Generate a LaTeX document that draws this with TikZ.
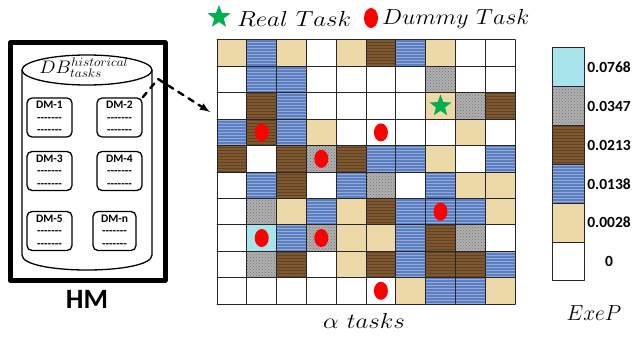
\documentclass[tikz,border=0pt]{standalone}
\usepackage{fontspec}
\newfontfamily\calib{Carlito}
\usetikzlibrary{shapes.geometric,positioning,patterns}
\definecolor{tanc}{RGB}{237,217,168}
\definecolor{bluec}{RGB}{92,126,194}
\definecolor{woodc}{RGB}{128,88,48}
\definecolor{grayc}{RGB}{176,176,176}
\definecolor{cyanc}{RGB}{166,228,236}
\definecolor{starg}{RGB}{0,176,80}
\newcommand\dashrow{-{}-{}-{}-{}-{}-{}-}
\newcommand\widetxt[2]{\scalebox{#1}[1.05]{#2}}
\tikzset{
 v0/.style={fill=white},
 v1/.style={fill=tanc},
 v2/.style={fill=bluec,postaction={pattern=horizontal lines,pattern color=bluec!65!white}},
 v3/.style={fill=woodc,postaction={pattern=horizontal lines,pattern color=woodc!75!black}},
 v4/.style={fill=grayc,postaction={pattern=crosshatch dots,pattern color=grayc!65!black}},
 v5/.style={fill=cyanc,postaction={pattern=dots,pattern color=cyanc!70!white}}}
\begin{document}
\begin{tikzpicture}[x=1pt,y=-1pt,line cap=round,line join=round,>=latex,
 dmbox/.style={draw,line width=1.3pt,rounded corners=5pt,minimum width=45pt,
  minimum height=39pt,inner sep=1pt,align=center,
  font=\calib\bfseries\fontsize{11.5}{12.5}\selectfont},
 dummy/.style={ellipse,fill=red,minimum width=14pt,minimum height=18pt,inner sep=0pt},
 realstar/.style={star,star points=5,star point ratio=2.4,fill=starg,
  minimum size=24pt,inner sep=0pt},
 mathlab/.style={font=\fontsize{22}{24}\selectfont,inner sep=0pt},
 barlab/.style={font=\calib\bfseries\fontsize{15.5}{16}\selectfont,inner sep=0pt}]
\useasboundingbox (0,0) rectangle (639,337);
% history model: frame, database cylinder and its DM records
\draw[line width=5pt] (10,43) rectangle (165,280);
\node[font=\calib\bfseries\fontsize{28}{30}\selectfont,inner sep=0pt] (hm) at (87,299) {HM};
\draw[line width=1.3pt] (87,70) ellipse[x radius=65,y radius=15];
\draw[line width=1.3pt] (22,70) -- (22,255) .. controls (22,275) and (152,275) .. (152,255) -- (152,70);
\node[font=\fontsize{18}{19}\selectfont,inner sep=0pt] (dblab) at (84,68)
 {\widetxt{1.12}{$DB^{historical}_{tasks}$}};
\node[dmbox] (dm1) at (49.5,117.5) {DM-1\\\dashrow\\\dashrow};
\node[dmbox] (dm2) at (119.5,117.5) {DM-2\\\dashrow\\\dashrow};
\node[dmbox] (dm3) at (49.5,171) {DM-3\\\dashrow\\\dashrow};
\node[dmbox] (dm4) at (119.5,171) {DM-4\\\dashrow\\\dashrow};
\node[dmbox] (dm5) at (49.5,231) {DM-5\\\dashrow\\\dashrow};
\node[dmbox,minimum width=43pt] (dmn) at (114.5,231) {DM-n\\\dashrow\\\dashrow};
% mapping arrow towards the task grid
\coordinate (bend) at (158,79);
\coordinate (gridin) at (210,112);
\draw[line width=2.4pt,dash pattern=on 6pt off 6pt,->] (dm2.north east) -- (bend) -- (gridin);
% legend
\node[realstar] (keystar) at (219,17) {};
\node[mathlab,anchor=west] (legreal) at (237,19) {\widetxt{1.2}{$Real\ Task$}};
\node[dummy,minimum height=20pt] (keydot) at (371,18) {};
\node[mathlab,anchor=west] (legdummy) at (382,19) {\widetxt{1.15}{$Dummy\ Task$}};
% task grid, 10 x 10 cells, value 0..5 = colour class
\foreach \rw [count=\r] in {{1,2,1,0,1,3,2,1,0,0},{0,2,2,0,0,0,0,4,0,0},
 {0,3,2,0,0,0,0,1,4,3},{2,3,2,1,0,0,0,0,1,0},{3,0,3,4,3,2,2,1,0,2},
 {0,2,3,0,2,4,0,2,1,1},{0,4,1,2,1,3,2,2,2,1},{0,5,2,4,1,1,2,3,4,0},
 {0,4,3,0,1,3,2,3,3,2},{0,0,0,0,0,0,1,2,2,1}}
 {\foreach \v [count=\c] in \rw
  {\path[v\v] ({217+(\c-1)*29.8},{40+(\r-1)*26.4}) rectangle ++(29.8,26.4);}}
\foreach \i in {0,...,10}
 {\draw[black!85,line width=1pt] ({217+\i*29.8},40) -- ++(0,264);
  \draw[black!85,line width=1pt] (217,{40+\i*26.4}) -- ++(298,0);}
\node[realstar,minimum size=23pt] (tstar) at (440.5,106) {};
\node[dummy] (d1) at (261.7,132.4) {};
\node[dummy] (d2) at (380.9,132.4) {};
\node[dummy] (d3) at (321.3,158.8) {};
\node[dummy] (d4) at (440.5,211.6) {};
\node[dummy] (d5) at (261.7,238) {};
\node[dummy] (d6) at (321.3,238) {};
\node[dummy] (d7) at (380.9,290.8) {};
\node[mathlab] (xlab) at (364,321) {\widetxt{1.2}{$\alpha\ tasks$}};
% colour bar of ExeP
\foreach \v/\t/\lab [count=\k] in {5/48/0.0768,4/86.8/0.0347,3/125.6/0.0213,
 2/164.4/0.0138,1/203.2/0.0028,0/242/0}
 {\path[v\v] (552,\t) rectangle ++(32,38.8);
  \draw[black!85,line width=1pt] (552,\t) rectangle ++(32,38.8);
  \node[barlab] (val\k) at (609,{\t+19.4}) {\lab};}
\node[mathlab] (exep) at (594,313) {\widetxt{1.03}{$ExeP$}};
\end{tikzpicture}
\end{document}
